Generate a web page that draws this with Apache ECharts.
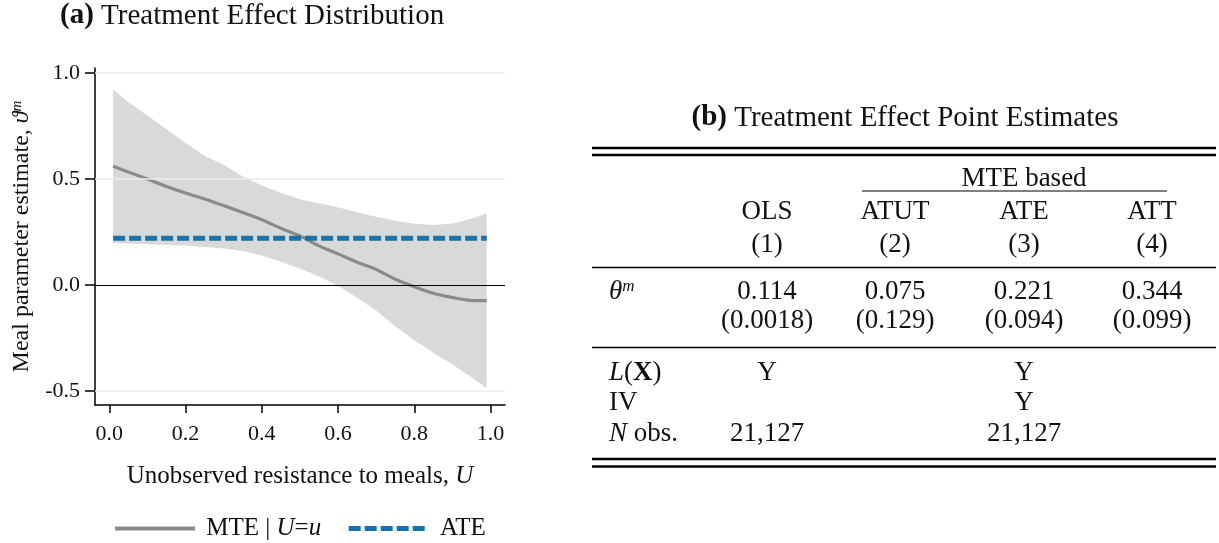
<!DOCTYPE html>
<html>
<head>
<meta charset="utf-8">
<script src="https://cdn.jsdelivr.net/npm/echarts@6/dist/echarts.min.js"></script>
<style>
  html, body { margin: 0; padding: 0; background: #fff; }
  #chart { width: 1219px; height: 543px; }
</style>
</head>
<body>
<div id="chart"></div>
<script>
// panel (a): MTE curve with confidence band
const uGrid = [0.01, 0.05, 0.10, 0.15, 0.20, 0.25, 0.30, 0.35, 0.40, 0.45, 0.50,
               0.55, 0.60, 0.65, 0.70, 0.75, 0.80, 0.85, 0.90, 0.95, 0.99];
const mteValues = [0.561, 0.533, 0.500, 0.465, 0.434, 0.406, 0.375, 0.342, 0.308, 0.268, 0.232,
                   0.185, 0.147, 0.108, 0.074, 0.027, -0.008, -0.039, -0.059, -0.073, -0.074];
const upperValues = [0.923, 0.862, 0.800, 0.735, 0.670, 0.610, 0.567, 0.512, 0.470, 0.436, 0.405,
                     0.386, 0.367, 0.343, 0.322, 0.303, 0.289, 0.283, 0.290, 0.313, 0.338];
const lowerValues = [0.200, 0.196, 0.192, 0.189, 0.187, 0.180, 0.172, 0.160, 0.139, 0.110, 0.078,
                     0.040, -0.005, -0.060, -0.120, -0.195, -0.260, -0.320, -0.375, -0.435, -0.487];
const ateValue = 0.221;
const xTicks = [0, 0.2, 0.4, 0.6, 0.8, 1.0];
const yTicks = [-0.5, 0, 0.5, 1.0];
const gridValues = [1.0, 0.5, -0.5];

// panel (b): table
const colHeads = ["OLS", "ATUT", "ATE", "ATT"];
const colNums = ["(1)", "(2)", "(3)", "(4)"];
const estimates = ["0.114", "0.075", "0.221", "0.344"];
const stdErrs = ["(0.0018)", "(0.129)", "(0.094)", "(0.099)"];
const rowLX = ["Y", "", "Y", ""];
const rowIV = ["", "", "Y", ""];
const rowN = ["21,127", "", "21,127", ""];

const FONT = "'Liberation Serif', 'DejaVu Serif', serif";
const INK = "#111";
const GREY = "#8a8a8a";
const BLUE = "#1572ae";

const pairs = (xs, ys) => xs.map((x, i) => [x, ys[i]]);

const richBase = (size) => ({
  r: { fontFamily: FONT, fontSize: size, color: INK },
  i: { fontFamily: FONT, fontSize: size, color: INK, fontStyle: "italic" },
  b: { fontFamily: FONT, fontSize: size, color: INK, fontWeight: "bold" },
  s: { fontFamily: FONT, fontSize: Math.round(size * 0.62), color: INK, fontStyle: "italic", verticalAlign: "top" }
});

// table layout
const colX = [767, 895, 1024, 1152];
const ruleL = 592, ruleR = 1216;

function text(x, y, str, size, align) {
  return {
    type: "text", x: x, y: y, silent: true,
    style: {
      text: str, fontFamily: FONT, fontSize: size, fill: INK,
      align: align || "center", verticalAlign: "middle",
      rich: richBase(size)
    }
  };
}
function rule(y, x1, x2, w) {
  return {
    type: "line", silent: true,
    shape: { x1: x1, y1: y, x2: x2, y2: y },
    style: { stroke: "#000", lineWidth: w }
  };
}

const graphics = [];
graphics.push(text(60, 16, "{b|(a)} {r|Treatment Effect Distribution}", 29, "left"));
graphics.push(text(905, 118, "{b|(b)} {r|Treatment Effect Point Estimates}", 29, "center"));
graphics.push(rule(148, ruleL, ruleR, 2.5));
graphics.push(rule(155, ruleL, ruleR, 2.5));
graphics.push(text(1024, 179, "MTE based", 27));
graphics.push(rule(191, 862, 1167, 1.2));
colHeads.forEach((t, i) => graphics.push(text(colX[i], 212, t, 27)));
colNums.forEach((t, i) => graphics.push(text(colX[i], 245, t, 27)));
graphics.push(rule(267.5, ruleL, ruleR, 1.6));
graphics.push(text(609, 292, "{i|θ}{s|m}", 27, "left"));
estimates.forEach((t, i) => graphics.push(text(colX[i], 292, t, 27)));
stdErrs.forEach((t, i) => graphics.push(text(colX[i], 321, t, 27)));
graphics.push(rule(347.5, ruleL, ruleR, 1.6));
graphics.push(text(609, 373, "{i|L}{r|(}{b|X}{r|)}", 27, "left"));
graphics.push(text(609, 403, "IV", 27, "left"));
graphics.push(text(609, 434, "{i|N}{r| obs.}", 27, "left"));
rowLX.forEach((t, i) => t && graphics.push(text(colX[i], 373, t, 27)));
rowIV.forEach((t, i) => t && graphics.push(text(colX[i], 403, t, 27)));
rowN.forEach((t, i) => t && graphics.push(text(colX[i], 434, t, 27)));
graphics.push(rule(459, ruleL, ruleR, 2.5));
graphics.push(rule(466.5, ruleL, ruleR, 2.5));

// confidence band as one polygon: upper edge left to right, lower edge back
function renderBand(params, api) {
  if (params.dataIndex !== 0) return;
  const pts = [];
  uGrid.forEach((u, i) => pts.push(api.coord([u, upperValues[i]])));
  for (let i = uGrid.length - 1; i >= 0; i--) pts.push(api.coord([uGrid[i], lowerValues[i]]));
  return { type: "polygon", shape: { points: pts }, style: { fill: "#d9d9d9" } };
}

const myChart = echarts.init(document.getElementById("chart"));
const option = {
  animation: false,
  backgroundColor: "#fff",
  grid: { left: 95, top: 68, width: 410, height: 337 },
  legend: {
    data: [
      { name: "MTE", lineStyle: { color: GREY, width: 4, type: "solid" } },
      { name: "ATE", lineStyle: { color: BLUE, width: 5, type: [12, 4] } }
    ],
    left: 113,
    top: 516,
    padding: 0,
    itemWidth: 80,
    itemHeight: 14,
    itemGap: 25,
    itemStyle: { opacity: 0 },
    formatter: function (name) {
      return name === "MTE" ? "{r| MTE | }{i|U}{r|=}{i|u}" : "{r| ATE}";
    },
    textStyle: { fontFamily: FONT, fontSize: 25, color: INK, rich: richBase(25) }
  },
  xAxis: {
    type: "value",
    min: -0.0375,
    max: 1.038,
    name: "{r|Unobserved resistance to meals, }{i|U}",
    nameLocation: "middle",
    nameGap: 59,
    nameTextStyle: { fontFamily: FONT, fontSize: 25, color: INK, rich: richBase(25) },
    axisLine: { onZero: false, lineStyle: { color: "#000", width: 1.5 } },
    axisTick: { customValues: xTicks, length: 8, lineStyle: { color: "#000", width: 1.5 } },
    axisLabel: {
      customValues: xTicks, margin: 18,
      fontFamily: FONT, fontSize: 22, color: INK,
      formatter: (v) => v.toFixed(1)
    },
    splitLine: { show: false }
  },
  yAxis: {
    type: "value",
    min: -0.566,
    max: 1.024,
    name: "{r|Meal parameter estimate, }{i|ϑ}{s|m}",
    nameLocation: "middle",
    nameGap: 61,
    nameTextStyle: { fontFamily: FONT, fontSize: 24, color: INK, rich: richBase(24) },
    axisLine: { onZero: false, lineStyle: { color: "#000", width: 1.5 } },
    axisTick: { customValues: yTicks, length: 10, lineStyle: { color: "#000", width: 1.5 } },
    axisLabel: {
      customValues: yTicks, margin: 15,
      fontFamily: FONT, fontSize: 22, color: INK,
      formatter: (v) => v.toFixed(1)
    },
    splitLine: { show: false }
  },
  series: [
    {
      name: "gridlines",
      type: "line",
      z: 1,
      data: [],
      markLine: {
        silent: true,
        symbol: ["none", "none"],
        label: { show: false },
        lineStyle: { color: "#e4eeef", width: 1.5, type: "solid" },
        data: gridValues.map((v) => ({ yAxis: v }))
      }
    },
    {
      name: "band",
      type: "custom",
      z: 2,
      silent: true,
      renderItem: renderBand,
      data: [[0.5, 0]]
    },
    {
      name: "zero",
      type: "line",
      z: 3,
      data: [],
      markLine: {
        silent: true,
        symbol: ["none", "none"],
        label: { show: false },
        lineStyle: { color: "#000", width: 1.2, type: "solid" },
        data: [{ yAxis: 0 }]
      }
    },
    {
      name: "MTE",
      type: "line",
      z: 4,
      symbol: "none",
      smooth: 0.2,
      lineStyle: { color: GREY, width: 3.2 },
      itemStyle: { color: GREY },
      data: pairs(uGrid, mteValues)
    },
    {
      name: "ATE",
      type: "line",
      z: 5,
      symbol: "none",
      lineStyle: { color: BLUE, width: 5, type: [12, 4] },
      itemStyle: { color: BLUE },
      data: [[uGrid[0], ateValue], [uGrid[uGrid.length - 1], ateValue]]
    }
  ],
  graphic: graphics
};
myChart.setOption(option);
</script>
</body>
</html>
